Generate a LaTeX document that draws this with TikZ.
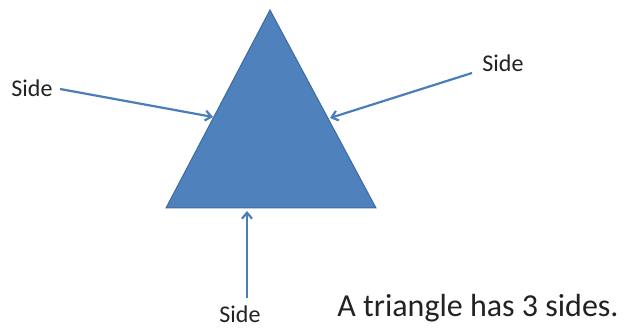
\documentclass[tikz,border=0pt]{standalone}
\usepackage{fontspec}
\setmainfont{Carlito}
\usetikzlibrary{arrows.meta}
\definecolor{triblue}{HTML}{4F81BD}
\definecolor{triedge}{HTML}{3F6A9E}
\definecolor{arrblue}{HTML}{4A7EBB}
\definecolor{inkgray}{HTML}{222222}
\begin{document}
\begin{tikzpicture}[x=1pt,y=-1pt,
  lbl/.style={inner sep=0pt,text=inkgray,font=\fontsize{24}{26}\selectfont},
  captext/.style={inner sep=0pt,text=inkgray,font=\fontsize{32}{36}\selectfont},
  pointer/.style={draw=arrblue,line width=2.2pt,-{Straight Barb[length=6pt,width=10pt,line width=2.2pt]}}]
\useasboundingbox (0,0) rectangle (625,328);
\fill[white] (0,0) rectangle (625,328);
% triangle
\coordinate (apex) at (270,10);
\coordinate (bl) at (166,208);
\coordinate (br) at (376,208);
\draw[fill=triblue,draw=triedge,line width=1pt] (apex) -- (bl) -- (br) -- cycle;
% targets on the sides
\coordinate (tl) at (213,117);
\coordinate (tr) at (330,118);
\coordinate (tb) at (247,211);
% labels
\node[lbl] (sl) at (32,88) {Side};
\node[lbl] (sr) at (503,63) {Side};
\node[lbl] (sb) at (240,314) {Side};
\node[captext] (caption) at (478,308) {A triangle has 3 sides.};
% start points
\coordinate (l0) at (60,89);
\coordinate (r0) at (472,73);
\coordinate (b0) at (247,298);
\draw[pointer] (l0) -- (tl);
\draw[pointer] (r0) -- (tr);
\draw[pointer] (b0) -- (tb);
\end{tikzpicture}
\end{document}
